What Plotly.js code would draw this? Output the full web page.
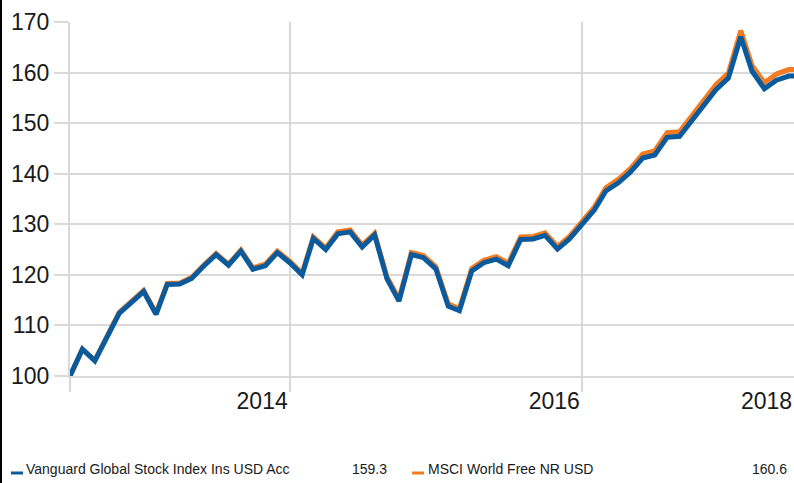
<!DOCTYPE html>
<html>
<head>
<meta charset="utf-8">
<script src="https://cdn.plot.ly/plotly-3.0.1.min.js"></script>
<style>
  html, body { margin: 0; padding: 0; background: #fff; }
  #chart { width: 794px; height: 483px; }
</style>
</head>
<body>
<div id="chart"></div>
<script>
// ---- data ----
const months = [
  '2012-07','2012-08','2012-09','2012-10','2012-11','2012-12',
  '2013-01','2013-02','2013-03','2013-04','2013-05','2013-06','2013-07','2013-08','2013-09','2013-10','2013-11','2013-12',
  '2014-01','2014-02','2014-03','2014-04','2014-05','2014-06','2014-07','2014-08','2014-09','2014-10','2014-11','2014-12',
  '2015-01','2015-02','2015-03','2015-04','2015-05','2015-06','2015-07','2015-08','2015-09','2015-10','2015-11','2015-12',
  '2016-01','2016-02','2016-03','2016-04','2016-05','2016-06','2016-07','2016-08','2016-09','2016-10','2016-11','2016-12',
  '2017-01','2017-02','2017-03','2017-04','2017-05','2017-06','2017-07'
];
const vanguard = [
  100.0,105.3,103.0,107.9,112.4,114.5,116.7,112.2,118.1,118.2,119.3,121.8,124.0,121.9,124.7,121.1,121.8,124.4,
  122.4,120.0,127.2,125.0,128.1,128.5,125.5,127.9,119.2,114.8,124.0,123.4,
  121.2,113.8,112.9,120.8,122.4,123.1,121.8,127.0,127.1,127.8,125.1,127.1,
  129.9,132.8,136.6,138.2,140.3,143.1,143.7,147.2,147.4,150.4,153.4,156.6,
  158.9,167.1,160.3,156.8,158.5,159.3,159.3
];
const msci = [
  100.0,105.3,103.1,108.0,112.6,114.7,116.9,112.4,118.3,118.4,119.5,122.0,124.2,122.1,124.9,121.4,122.1,124.7,
  122.7,120.3,127.5,125.3,128.5,128.9,125.9,128.2,119.6,115.2,124.4,123.8,
  121.6,114.3,113.3,121.3,122.9,123.6,122.3,127.5,127.6,128.3,125.6,127.6,
  130.4,133.4,137.2,138.9,141.0,143.9,144.5,148.1,148.3,151.3,154.4,157.6,
  159.9,168.3,161.4,158.0,159.7,160.6,160.6
];
const seriesNames = ['Vanguard Global Stock Index Ins USD Acc', 'MSCI World Free NR USD'];
const lastValues = ['159.3', '160.6'];
const yTicks = [100, 110, 120, 130, 140, 150, 160, 170];
const xTickVals = ['2012-07-01', '2014-01-01', '2016-01-01'];
const xTickText = ['', '2014', '2016'];
const extraYearLabel = '2018';

// ---- styles ----
const BLUE = '#0a5a9e';
const ORANGE = '#f47b20';
const GRID = '#d9d9d9';
const TXT = '#1a1a1a';
const W = 794, H = 483;
const M = {l: 70, r: 0, t: 22, b: 107};
const PW = W - M.l - M.r, PH = H - M.t - M.b;
const px = x => (x - M.l) / PW;          // pixel -> paper x
const py = y => (H - M.b - y) / PH;      // pixel -> paper y
const TICK_SIZE = 23;

const traces = [
  {x: months, y: msci, type: 'scatter', mode: 'lines', name: seriesNames[1],
   line: {color: ORANGE, width: 5, shape: 'linear'}, hoverinfo: 'skip'},
  {x: months, y: vanguard, type: 'scatter', mode: 'lines', name: seriesNames[0],
   line: {color: BLUE, width: 5, shape: 'linear'}, hoverinfo: 'skip'}
];

const font = {family: 'Liberation Sans, Arial, sans-serif', color: TXT};

const layout = {
  width: W, height: H,
  margin: M,
  paper_bgcolor: '#fff', plot_bgcolor: '#fff',
  showlegend: false,
  font: font,
  xaxis: {
    type: 'date',
    range: ['2012-07-01', '2017-06-14'],
    tickmode: 'array', tickvals: xTickVals, ticktext: xTickText,
    showgrid: true, gridcolor: GRID, gridwidth: 2,
    ticks: 'outside', ticklen: 14, tickcolor: GRID, tickwidth: 2,
    ticklabelposition: 'outside left',
    ticklabelstandoff: 3,
    tickfont: {size: TICK_SIZE, color: TXT, family: font.family},
    showline: true, linecolor: GRID, linewidth: 2,
    zeroline: false, fixedrange: true
  },
  yaxis: {
    range: [100, 170],
    tickmode: 'array', tickvals: yTicks,
    showgrid: true, gridcolor: GRID, gridwidth: 2,
    ticks: 'outside', ticklen: 14, tickcolor: GRID, tickwidth: 2,
    tickfont: {size: TICK_SIZE, color: TXT, family: font.family},
    showline: true, linecolor: GRID, linewidth: 2,
    zeroline: false, fixedrange: true
  },
  annotations: [
    {text: extraYearLabel, xref: 'paper', yref: 'paper', x: px(794), y: py(401),
     xanchor: 'right', yanchor: 'middle', showarrow: false,
     font: {size: TICK_SIZE, color: TXT, family: font.family}},
    {text: seriesNames[0], xref: 'paper', yref: 'paper', x: px(24), y: py(469),
     xanchor: 'left', yanchor: 'middle', showarrow: false,
     font: {size: 14, color: TXT, family: font.family}},
    {text: lastValues[0], xref: 'paper', yref: 'paper', x: px(389), y: py(469),
     xanchor: 'right', yanchor: 'middle', showarrow: false,
     font: {size: 14, color: TXT, family: font.family}},
    {text: seriesNames[1], xref: 'paper', yref: 'paper', x: px(426), y: py(469),
     xanchor: 'left', yanchor: 'middle', showarrow: false,
     font: {size: 14, color: TXT, family: font.family}},
    {text: lastValues[1], xref: 'paper', yref: 'paper', x: px(789), y: py(469),
     xanchor: 'right', yanchor: 'middle', showarrow: false,
     font: {size: 14, color: TXT, family: font.family}}
  ],
  shapes: [
    {type: 'line', xref: 'paper', yref: 'paper', x0: px(11), x1: px(23), y0: py(473), y1: py(473),
     line: {color: BLUE, width: 3}},
    {type: 'line', xref: 'paper', yref: 'paper', x0: px(412), x1: px(424), y0: py(473), y1: py(473),
     line: {color: ORANGE, width: 3}},
    {type: 'rect', xref: 'paper', yref: 'paper', x0: px(0), x1: px(2), y0: py(H), y1: py(0),
     line: {width: 0}, fillcolor: '#000'}
  ]
};

Plotly.newPlot('chart', traces, layout, {staticPlot: true, displayModeBar: false});
</script>
</body>
</html>
